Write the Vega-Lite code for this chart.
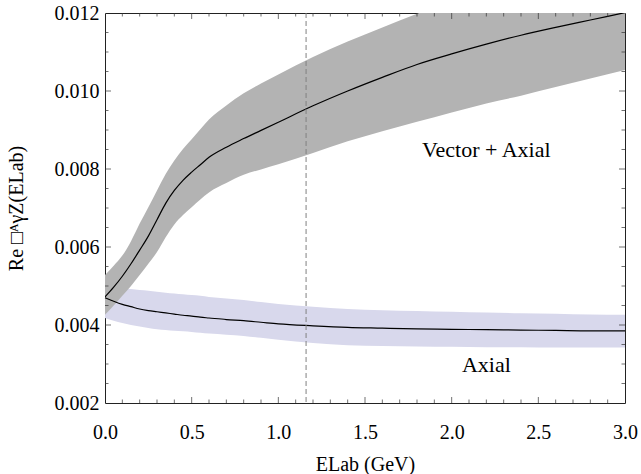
{
  "$schema": "https://vega.github.io/schema/vega-lite/v6.json",
  "width": 520,
  "height": 390,
  "autosize": {"type": "none"},
  "padding": {"left": 105, "top": 13, "right": 16, "bottom": 71},
  "background": "white",
  "config": {
    "view": {"stroke": "#222222", "strokeWidth": 1},
    "font": "Liberation Serif",
    "axis": {
      "grid": false,
      "domain": false,
      "ticks": false,
      "labelFlush": false,
      "labelOverlap": false,
      "labelFont": "Liberation Serif",
      "labelColor": "black",
      "labelFontSize": 20,
      "titleFont": "Liberation Serif",
      "titleFontSize": 20,
      "titleFontWeight": "normal",
      "titleColor": "black"
    }
  },
  "datasets": {
    "va": [
      {"E": 0, "lo": 0.00426, "mid": 0.00472, "hi": 0.00528},
      {"E": 0.05, "lo": 0.0045, "mid": 0.00497, "hi": 0.00552},
      {"E": 0.1, "lo": 0.00475, "mid": 0.00525, "hi": 0.00578},
      {"E": 0.15, "lo": 0.005, "mid": 0.00557, "hi": 0.00615},
      {"E": 0.2, "lo": 0.00528, "mid": 0.00592, "hi": 0.0066},
      {"E": 0.25, "lo": 0.00557, "mid": 0.00628, "hi": 0.00702},
      {"E": 0.3, "lo": 0.00587, "mid": 0.0067, "hi": 0.00745},
      {"E": 0.35, "lo": 0.00625, "mid": 0.00712, "hi": 0.00787},
      {"E": 0.4, "lo": 0.00658, "mid": 0.00745, "hi": 0.00822},
      {"E": 0.45, "lo": 0.00682, "mid": 0.00771, "hi": 0.00851},
      {"E": 0.5, "lo": 0.00702, "mid": 0.00792, "hi": 0.00876},
      {"E": 0.55, "lo": 0.00722, "mid": 0.00811, "hi": 0.00902},
      {"E": 0.6, "lo": 0.0074, "mid": 0.0083, "hi": 0.00927},
      {"E": 0.7, "lo": 0.00764, "mid": 0.00856, "hi": 0.00963},
      {"E": 0.8, "lo": 0.00785, "mid": 0.00878, "hi": 0.00994},
      {"E": 0.9, "lo": 0.00799, "mid": 0.00899, "hi": 0.01019},
      {"E": 1.0, "lo": 0.00812, "mid": 0.0092, "hi": 0.01042},
      {"E": 1.2, "lo": 0.00841, "mid": 0.00962, "hi": 0.01087},
      {"E": 1.4, "lo": 0.00871, "mid": 0.01, "hi": 0.01127},
      {"E": 1.6, "lo": 0.00897, "mid": 0.01035, "hi": 0.01163},
      {"E": 1.8, "lo": 0.00921, "mid": 0.01068, "hi": 0.01198},
      {"E": 2.0, "lo": 0.00945, "mid": 0.01095, "hi": 0.0123},
      {"E": 2.2, "lo": 0.00968, "mid": 0.0112, "hi": 0.01262},
      {"E": 2.4, "lo": 0.00988, "mid": 0.01143, "hi": 0.01292},
      {"E": 2.6, "lo": 0.0101, "mid": 0.01163, "hi": 0.0132},
      {"E": 2.8, "lo": 0.01032, "mid": 0.01182, "hi": 0.01348},
      {"E": 3.0, "lo": 0.01054, "mid": 0.01201, "hi": 0.01375}
    ],
    "ax": [
      {"E": 0, "lo": 0.00418, "mid": 0.0047, "hi": 0.00497},
      {"E": 0.05, "lo": 0.00411, "mid": 0.00461, "hi": 0.00496},
      {"E": 0.1, "lo": 0.00405, "mid": 0.00453, "hi": 0.00494},
      {"E": 0.15, "lo": 0.004, "mid": 0.00447, "hi": 0.00492},
      {"E": 0.2, "lo": 0.00396, "mid": 0.00441, "hi": 0.0049},
      {"E": 0.25, "lo": 0.00392, "mid": 0.00437, "hi": 0.00488},
      {"E": 0.3, "lo": 0.00389, "mid": 0.00434, "hi": 0.00485},
      {"E": 0.35, "lo": 0.00387, "mid": 0.00431, "hi": 0.00483},
      {"E": 0.4, "lo": 0.00385, "mid": 0.00428, "hi": 0.00481},
      {"E": 0.45, "lo": 0.00384, "mid": 0.00425, "hi": 0.00479},
      {"E": 0.5, "lo": 0.00382, "mid": 0.00423, "hi": 0.00477},
      {"E": 0.55, "lo": 0.0038, "mid": 0.0042, "hi": 0.00475},
      {"E": 0.6, "lo": 0.00378, "mid": 0.00418, "hi": 0.00472},
      {"E": 0.7, "lo": 0.00375, "mid": 0.00414, "hi": 0.00468},
      {"E": 0.8, "lo": 0.00372, "mid": 0.00411, "hi": 0.00464},
      {"E": 0.9, "lo": 0.00367, "mid": 0.00407, "hi": 0.00459},
      {"E": 1.0, "lo": 0.00362, "mid": 0.00403, "hi": 0.00454},
      {"E": 1.2, "lo": 0.00354, "mid": 0.00398, "hi": 0.00447},
      {"E": 1.4, "lo": 0.00348, "mid": 0.00394, "hi": 0.00441},
      {"E": 1.6, "lo": 0.00346, "mid": 0.00392, "hi": 0.00438},
      {"E": 1.8, "lo": 0.00345, "mid": 0.0039, "hi": 0.00436},
      {"E": 2.0, "lo": 0.00344, "mid": 0.00389, "hi": 0.00434},
      {"E": 2.2, "lo": 0.00343, "mid": 0.00388, "hi": 0.00432},
      {"E": 2.4, "lo": 0.00343, "mid": 0.00387, "hi": 0.0043},
      {"E": 2.6, "lo": 0.00342, "mid": 0.00386, "hi": 0.00429},
      {"E": 2.8, "lo": 0.00342, "mid": 0.00385, "hi": 0.00427},
      {"E": 3.0, "lo": 0.00342, "mid": 0.00385, "hi": 0.00426}
    ],
    "vline": [{"E": 1.16}],
    "labels": [
      {"E": 2.2, "v": 0.00849, "label": "Vector + Axial"},
      {"E": 2.2, "v": 0.00297, "label": "Axial"}
    ],
    "xmajor": [{"E": 0.5}, {"E": 1.0}, {"E": 1.5}, {"E": 2.0}, {"E": 2.5}],
    "xminor": [{"E": 0.1}, {"E": 0.2}, {"E": 0.3}, {"E": 0.4}, {"E": 0.6}, {"E": 0.7}, {"E": 0.8}, {"E": 0.9},
               {"E": 1.1}, {"E": 1.2}, {"E": 1.3}, {"E": 1.4}, {"E": 1.6}, {"E": 1.7}, {"E": 1.8}, {"E": 1.9},
               {"E": 2.1}, {"E": 2.2}, {"E": 2.3}, {"E": 2.4}, {"E": 2.6}, {"E": 2.7}, {"E": 2.8}, {"E": 2.9}],
    "ymajor": [{"v": 0.004}, {"v": 0.006}, {"v": 0.008}, {"v": 0.01}],
    "yminor": [{"v": 0.0025}, {"v": 0.003}, {"v": 0.0035}, {"v": 0.0045}, {"v": 0.005}, {"v": 0.0055},
               {"v": 0.0065}, {"v": 0.007}, {"v": 0.0075}, {"v": 0.0085}, {"v": 0.009}, {"v": 0.0095},
               {"v": 0.0105}, {"v": 0.011}, {"v": 0.0115}]
  },
  "layer": [
    {
      "data": {"name": "ax"},
      "mark": {"type": "area", "color": "#d8d8ec", "opacity": 1, "interpolate": "monotone"},
      "encoding": {
        "x": {"field": "E", "type": "quantitative",
              "scale": {"domain": [0, 3], "nice": false, "zero": false},
              "axis": {"orient": "bottom", "values": [0, 0.5, 1, 1.5, 2, 2.5, 3], "format": ".1f",
                       "labelPadding": 19, "title": "ELab (GeV)", "titlePadding": 12}},
        "y": {"field": "lo", "type": "quantitative",
              "scale": {"domain": [0.002, 0.012], "nice": false, "zero": false},
              "axis": {"orient": "left", "values": [0.002, 0.004, 0.006, 0.008, 0.01, 0.012], "format": ".3f",
                       "labelPadding": 6, "title": "Re □ᴬγZ(ELab)", "titlePadding": 28}},
        "y2": {"field": "hi"}
      }
    },
    {
      "data": {"name": "va"},
      "mark": {"type": "area", "color": "#b3b3b3", "opacity": 1, "clip": true, "interpolate": "monotone"},
      "encoding": {
        "x": {"field": "E", "type": "quantitative", "axis": null},
        "y": {"field": "lo", "type": "quantitative", "axis": null},
        "y2": {"field": "hi"}
      }
    },
    {
      "data": {"name": "ax"},
      "mark": {"type": "line", "color": "black", "strokeWidth": 1.2, "interpolate": "monotone"},
      "encoding": {
        "x": {"field": "E", "type": "quantitative", "axis": null},
        "y": {"field": "mid", "type": "quantitative", "axis": null}
      }
    },
    {
      "data": {"name": "va"},
      "mark": {"type": "line", "color": "black", "strokeWidth": 1.2, "clip": true, "interpolate": "monotone"},
      "encoding": {
        "x": {"field": "E", "type": "quantitative", "axis": null},
        "y": {"field": "mid", "type": "quantitative", "axis": null}
      }
    },
    {
      "data": {"name": "vline"},
      "mark": {"type": "rule", "color": "#808080", "strokeWidth": 1, "strokeDash": [5, 3]},
      "encoding": {
        "x": {"field": "E", "type": "quantitative", "axis": null}
      }
    },
    {
      "data": {"name": "xmajor"},
      "mark": {"type": "tick", "orient": "vertical", "size": 12, "thickness": 1, "color": "#333333", "clip": true},
      "encoding": {
        "x": {"field": "E", "type": "quantitative", "axis": null},
        "y": {"datum": 0.002, "type": "quantitative", "axis": null}
      }
    },
    {
      "data": {"name": "xmajor"},
      "mark": {"type": "tick", "orient": "vertical", "size": 12, "thickness": 1, "color": "#333333", "clip": true},
      "encoding": {
        "x": {"field": "E", "type": "quantitative", "axis": null},
        "y": {"datum": 0.012, "type": "quantitative", "axis": null}
      }
    },
    {
      "data": {"name": "xminor"},
      "mark": {"type": "tick", "orient": "vertical", "size": 7, "thickness": 1, "color": "#333333", "clip": true},
      "encoding": {
        "x": {"field": "E", "type": "quantitative", "axis": null},
        "y": {"datum": 0.002, "type": "quantitative", "axis": null}
      }
    },
    {
      "data": {"name": "xminor"},
      "mark": {"type": "tick", "orient": "vertical", "size": 7, "thickness": 1, "color": "#333333", "clip": true},
      "encoding": {
        "x": {"field": "E", "type": "quantitative", "axis": null},
        "y": {"datum": 0.012, "type": "quantitative", "axis": null}
      }
    },
    {
      "data": {"name": "ymajor"},
      "mark": {"type": "tick", "orient": "horizontal", "size": 12, "thickness": 1, "color": "#333333", "clip": true},
      "encoding": {
        "y": {"field": "v", "type": "quantitative", "axis": null},
        "x": {"datum": 0, "type": "quantitative", "axis": null}
      }
    },
    {
      "data": {"name": "ymajor"},
      "mark": {"type": "tick", "orient": "horizontal", "size": 12, "thickness": 1, "color": "#333333", "clip": true},
      "encoding": {
        "y": {"field": "v", "type": "quantitative", "axis": null},
        "x": {"datum": 3, "type": "quantitative", "axis": null}
      }
    },
    {
      "data": {"name": "yminor"},
      "mark": {"type": "tick", "orient": "horizontal", "size": 7, "thickness": 1, "color": "#333333", "clip": true},
      "encoding": {
        "y": {"field": "v", "type": "quantitative", "axis": null},
        "x": {"datum": 0, "type": "quantitative", "axis": null}
      }
    },
    {
      "data": {"name": "yminor"},
      "mark": {"type": "tick", "orient": "horizontal", "size": 7, "thickness": 1, "color": "#333333", "clip": true},
      "encoding": {
        "y": {"field": "v", "type": "quantitative", "axis": null},
        "x": {"datum": 3, "type": "quantitative", "axis": null}
      }
    },
    {
      "data": {"name": "labels"},
      "mark": {"type": "text", "font": "Liberation Serif", "fontSize": 22, "color": "black", "align": "center", "baseline": "middle"},
      "encoding": {
        "x": {"field": "E", "type": "quantitative", "axis": null},
        "y": {"field": "v", "type": "quantitative", "axis": null},
        "text": {"field": "label"}
      }
    }
  ],
  "resolve": {"axis": {"x": "independent", "y": "independent"}}
}
